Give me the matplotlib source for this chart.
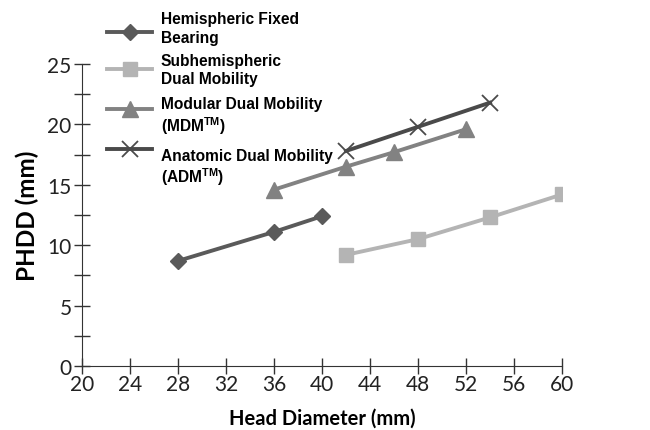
import matplotlib.pyplot as plt
from matplotlib.ticker import MultipleLocator
from matplotlib.transforms import ScaledTranslation

plt.rcParams['mathtext.fontset'] = 'custom'
plt.rcParams['mathtext.bf'] = 'Liberation Sans:bold'
plt.rcParams['mathtext.rm'] = 'Liberation Sans:bold'

# data
hfb_x = [28, 36, 40]
hfb_y = [8.7, 11.1, 12.4]
sub_x = [42, 48, 54, 60]
sub_y = [9.2, 10.5, 12.3, 14.2]
mdm_x = [36, 42, 46, 52]
mdm_y = [14.6, 16.5, 17.7, 19.6]
adm_x = [42, 48, 54]
adm_y = [17.8, 19.8, 21.8]

labels = ['Hemispheric Fixed\nBearing',
          'Subhemispheric\nDual Mobility',
          'Modular Dual Mobility\n(MDM$^{\\mathrm{TM}}$)',
          'Anatomic Dual Mobility\n(ADM$^{\\mathrm{TM}}$)']
# vertical nudges in the legend (pixels, + is down)
text_shift = [-4, 1, 8, 17]
handle_shift = [0, 0, 0, -2]
line_sp = [1.3, 1.3, 1.15, 1.15]

fig = plt.figure(figsize=(6.5, 4.31), dpi=100)
ax = fig.add_axes([82/650, 1-367/431, 480/650, 302/431])

ax.plot(hfb_x, hfb_y, color='#5a5a5a', lw=2.8, marker='D', ms=8, label=labels[0])
ax.plot(sub_x, sub_y, color='#b4b4b4', lw=2.8, marker='s', ms=10, label=labels[1])
ax.plot(mdm_x, mdm_y, color='#828282', lw=2.8, marker='^', ms=11, label=labels[2])
ax.plot(adm_x, adm_y, color='#4a4a4a', lw=2.8, marker='x', ms=11, mew=1.3,
        mec='#4a4a4a', label=labels[3])

ax.set_xlim(20, 60)
ax.set_ylim(0, 25)
ax.xaxis.set_major_locator(MultipleLocator(4))
ax.yaxis.set_major_locator(MultipleLocator(5))
ax.yaxis.set_minor_locator(MultipleLocator(2.5))
ax.tick_params(which='both', direction='inout', length=11, width=1, color='#333333',
               labelsize=15, labelcolor='#222222')
ax.tick_params(axis='x', pad=0)
ax.tick_params(axis='y', pad=2)
for lab in ax.get_xticklabels() + ax.get_yticklabels():
    lab.set_family('Lato')
ax.spines['top'].set_visible(False)
ax.spines['right'].set_visible(False)
ax.spines['left'].set_color('#333333')
ax.spines['bottom'].set_color('#333333')

ax.set_xlabel('Head Diameter (mm)', family='Lato', fontweight='bold', fontsize=14.5,
              labelpad=10)
ax.set_ylabel('PHDD (mm)', family='Lato', fontweight='bold', fontsize=17.5, labelpad=6)

leg = fig.legend(loc='upper left', bbox_to_anchor=(93/650, 1-2/431), frameon=False,
                 handlelength=2.9, handletextpad=0.55, labelspacing=0.2,
                 prop={'family': 'Liberation Sans', 'weight': 'bold', 'size': 11.2})
for t, dy, ls in zip(leg.get_texts(), text_shift, line_sp):
    t.set_linespacing(ls)
    t.set_transform(t.get_transform() + ScaledTranslation(0, -dy / 100, fig.dpi_scale_trans))
for h, dy in zip(leg.legend_handles, handle_shift):
    h.set_transform(h.get_transform() + ScaledTranslation(0, -dy / 100, fig.dpi_scale_trans))

fig.savefig('out.png', dpi=100)
